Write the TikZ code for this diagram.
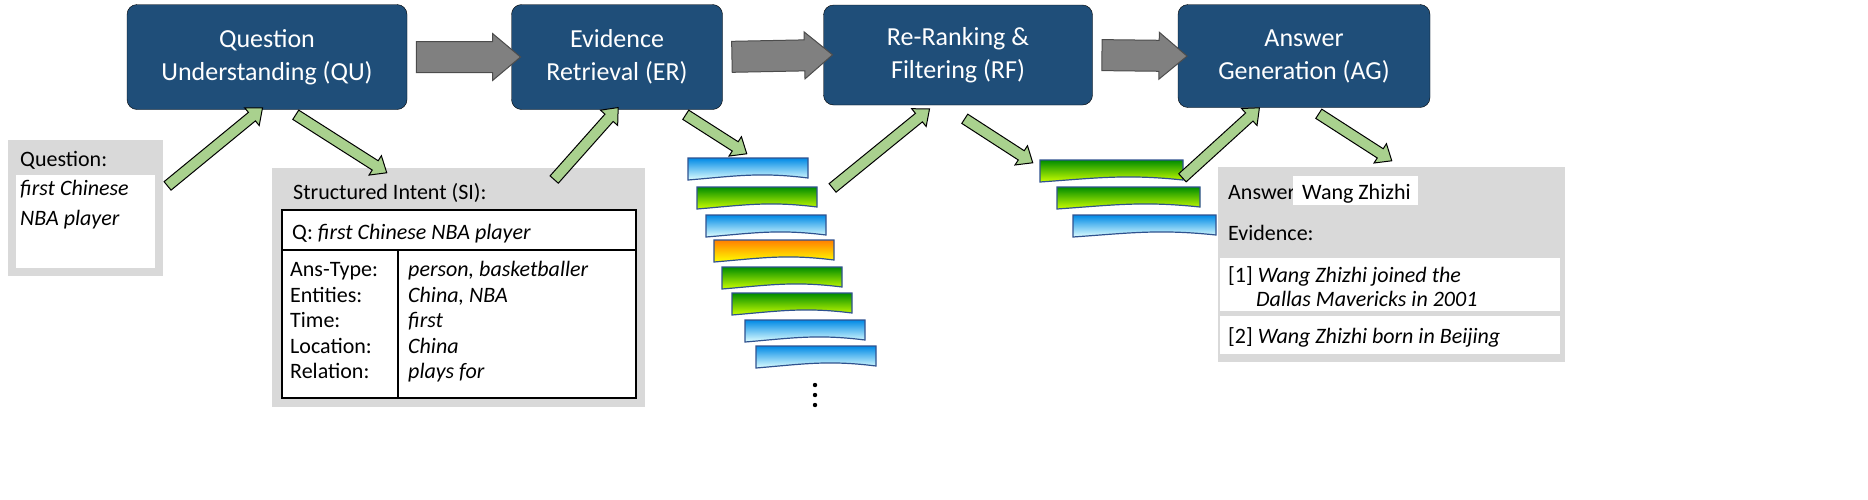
\documentclass[tikz,border=0pt]{standalone}
\usepackage{fontspec}
\setmainfont{Carlito}
\usetikzlibrary{calc,shapes.arrows}
\definecolor{stagecol}{HTML}{1F4E79}
\definecolor{greenarr}{HTML}{A9D18E}
\definecolor{panelgray}{HTML}{D9D9D9}
\definecolor{docedge}{HTML}{2F528F}
\tikzset{
  stage/.style={draw=black, fill=stagecol, rounded corners=10pt, text=white, align=center, font=\fontsize{26}{33}\selectfont},
  panel/.style={fill=panelgray},
  whitebox/.style={fill=white},
  body/.style={font=\fontsize{22}{27}\selectfont, inner sep=0pt},
  greenarrow/.style={draw=black, line width=1pt, fill=greenarr, single arrow, inner sep=5pt, single arrow head extend=6pt, single arrow tip angle=80},
  grayarrow/.style={draw=black!70, line width=1pt, fill=gray, single arrow, inner sep=15pt, single arrow head extend=8pt, single arrow tip angle=80},
  docblue/.style={top color=blue!40!cyan!90!black, bottom color=cyan!12},
  docgreen/.style={top color=green!55!black, bottom color=lime!80!yellow},
  docorange/.style={top color=orange, bottom color=yellow}
}
% block arrow between two points
\newcommand\barrow[3]{\path let \p1=(#1), \p2=(#2), \n1={atan2(\y2-\y1,\x2-\x1)}, \n2={veclen(\x2-\x1,\y2-\y1)} in node[#3, minimum height=\n2, rotate=\n1] at ($(#1)!0.5!(#2)$) {};}
% document with wavy bottom
\newcommand\doc[4]{\draw[docedge, line width=1.2pt, #4] (#1,#2) -- ++(#3,0) -- ++(0,20) .. controls ++(-#3*0.4,-6) and ++(#3*0.4,-4) .. (#1,#2+22) -- cycle;}
\begin{document}
\begin{tikzpicture}[x=1pt,y=-1pt]
\useasboundingbox (0,0) rectangle (1868,499);
% stages
\node[stage, minimum width=280pt, minimum height=105pt] (qu) at (267,57) {Question\\Understanding (QU)};
\node[stage, minimum width=211pt, minimum height=105pt] (er) at (617,57) {Evidence\\Retrieval (ER)};
\node[stage, minimum width=269pt, minimum height=100pt] (rf) at (958,55) {Re-Ranking \&\\Filtering (RF)};
\node[stage, minimum width=252pt, minimum height=103pt] (ag) at (1304,56) {Answer\\Generation (AG)};
\barrow{qu.east}{er.west}{grayarrow}
\barrow{er.east}{rf.west}{grayarrow}
\barrow{rf.east}{ag.west}{grayarrow}
% question panel
\fill[panel] (8,140) rectangle (163,276);
\node[body, anchor=base west] (qlab) at (20,166) {Question:};
\fill[whitebox] (16,175) rectangle (155,268);
\node[body, anchor=north west, align=left, font=\fontsize{22}{30}\selectfont\itshape] (qtext) at (20,180) {first Chinese\\NBA player};
% structured intent panel
\fill[panel] (272,168) rectangle (645,407);
\node[body, anchor=base west] (silab) at (293,199) {Structured Intent (SI):};
\draw[fill=white, line width=1.5pt] (282,210) rectangle (636,398);
\draw[line width=1.2pt] (282,250) -- (636,250) (398,250) -- (398,398);
\node[body, anchor=base west] (sq) at (292,239) {Q: \textit{first Chinese NBA player}};
\foreach \k/\v [count=\i] in {Ans-Type:/{person, basketballer}, Entities:/{China, NBA}, Time:/first, Location:/China, Relation:/plays for}{
  \node[body, anchor=base west] (sk\i) at (290,251+\i*25.5) {\k};
  \node[body, anchor=base west, font=\fontsize{22}{27}\selectfont\itshape] (sv\i) at (408,251+\i*25.5) {\v};
}
% retrieved documents
\foreach \x/\y/\c in {688/158/docblue, 697/187/docgreen, 706/215/docblue, 714/240/docorange, 722/267/docgreen, 732/293/docgreen, 745/320/docblue, 756/346/docblue}
  {\doc{\x}{\y}{120}{\c}}
\foreach \y in {385,395,405} \fill (815,\y) circle (2.2pt);
% filtered documents
\foreach \x/\y/\c in {1040/160/docgreen, 1057/187/docgreen, 1073/215/docblue}
  {\doc{\x}{\y}{143}{\c}}
% answer panel
\fill[panel] (1218,167) rectangle (1565,362);
\node[body, anchor=base west] (alab) at (1228,199) {Answer:};
\fill[whitebox] (1293,176) rectangle (1418,205);
\node[body, anchor=base west] (atext) at (1302,199) {Wang Zhizhi};
\node[body, anchor=base west] (elab) at (1228,240) {Evidence:};
\fill[whitebox] (1220,258) rectangle (1560,311);
\node[body, anchor=base west] (e1a) at (1228,282) {[1] \textit{Wang Zhizhi joined the}};
\node[body, anchor=base west] (e1b) at (1256,306) {\textit{Dallas Mavericks in 2001}};
\fill[whitebox] (1220,316) rectangle (1560,354);
\node[body, anchor=base west] (e2) at (1228,343) {[2] \textit{Wang Zhizhi born in Beijing}};
% flow arrows
\coordinate (q1) at (165,188); \coordinate (q2) at (260,110);
\coordinate (s1) at (293,113); \coordinate (s2) at (384,171);
\coordinate (i1) at (552,182); \coordinate (i2) at (616,110);
\coordinate (d1) at (683,113); \coordinate (d2) at (744,152);
\coordinate (r1) at (830,190); \coordinate (r2) at (927,111);
\coordinate (f1) at (962,117); \coordinate (f2) at (1030,161);
\coordinate (g1) at (1180,180); \coordinate (g2) at (1257,110);
\coordinate (a1) at (1316,112); \coordinate (a2) at (1389,159);
\foreach \a/\b in {q1/q2, s1/s2, i1/i2, d1/d2, r1/r2, f1/f2, g1/g2, a1/a2}
  {\barrow{\a}{\b}{greenarrow}}
\end{tikzpicture}
\end{document}
